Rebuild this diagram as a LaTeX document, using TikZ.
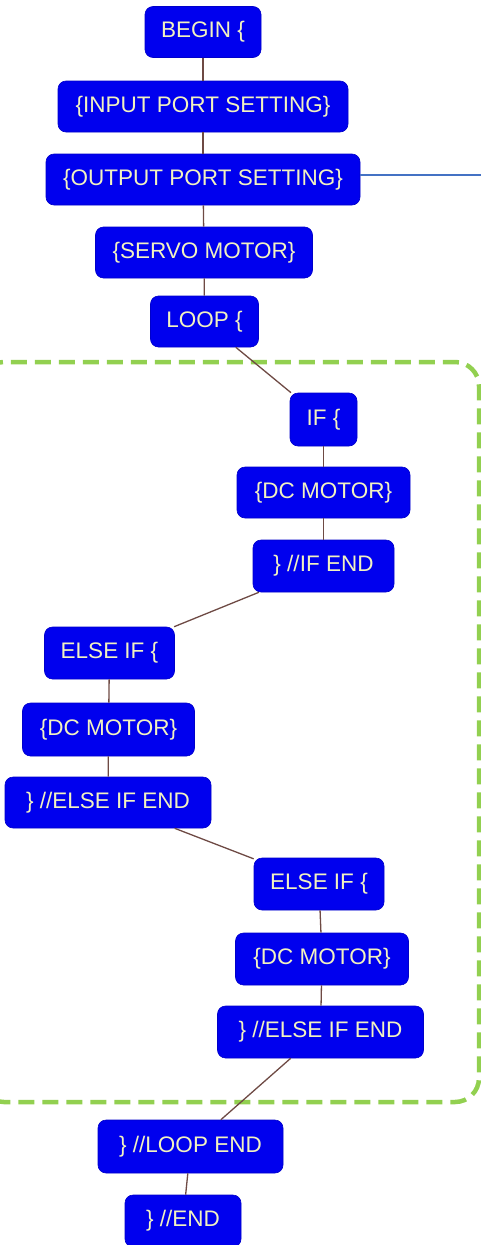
\documentclass[tikz,border=0pt]{standalone}
\usepackage{fontspec}
\setmainfont{Liberation Sans}
\definecolor{boxblue}{HTML}{0000EE}
\definecolor{boxtext}{HTML}{F2F2C0}
\definecolor{linkbrown}{HTML}{6E4A44}
\definecolor{loopgreen}{HTML}{92D050}
\definecolor{noteblue}{HTML}{4472C4}
\begin{document}
\begin{tikzpicture}[x=1pt,y=-1pt,
  blk/.style={draw=boxblue!85!black, line width=0.6pt, fill=boxblue, text=boxtext,
    rounded corners=8pt, inner sep=0pt, font=\fontsize{22.5}{26}\selectfont,
    minimum height=51pt},
  link/.style={draw=linkbrown, line width=1.3pt},
  loopframe/.style={draw=loopgreen, line width=4.5pt, dash pattern=on 16pt off 8pt,
    rounded corners=24pt}
]
\useasboundingbox (0,0) rectangle (481,1245);

% dashed frame around the loop body
\draw[loopframe] (-20,362) rectangle (479,1102);

% program blocks
\node[blk, minimum width=116pt] (begin) at (203,32) {BEGIN \{};
\node[blk, minimum width=290pt] (inport) at (203,106.5) {\{INPUT PORT SETTING\}};
\node[blk, minimum width=314pt] (outport) at (203,179.5) {\{OUTPUT PORT SETTING\}};
\node[blk, minimum width=217pt] (servo) at (204,252.5) {\{SERVO MOTOR\}};
\node[blk, minimum width=108pt] (loop) at (204.5,321.5) {LOOP \{};
\node[blk, minimum width=67pt, minimum height=53pt] (if) at (323.5,419.5) {IF \{};
\node[blk, minimum width=173pt] (dcone) at (323.5,492.5) {\{DC MOTOR\}};
\node[blk, minimum width=141pt, minimum height=52pt] (ifend) at (323.5,566) {\} //IF END};
\node[blk, minimum width=130pt, minimum height=52pt] (elifone) at (109.5,653) {ELSE IF \{};
\node[blk, minimum width=172pt, minimum height=53pt] (dctwo) at (108.5,729.5) {\{DC MOTOR\}};
\node[blk, minimum width=206pt] (elifendone) at (108,802.5) {\} //ELSE IF END};
\node[blk, minimum width=130pt, minimum height=52pt] (eliftwo) at (319,884) {ELSE IF \{};
\node[blk, minimum width=173pt, minimum height=52pt] (dcthree) at (322,959) {\{DC MOTOR\}};
\node[blk, minimum width=206pt, minimum height=52pt] (elifendtwo) at (320.5,1032) {\} //ELSE IF END};
\node[blk, minimum width=185pt, minimum height=53pt] (loopend) at (190.5,1146.5) {\} //LOOP END};
\node[blk, minimum width=116pt, minimum height=52pt] (progend) at (183,1221) {\} //END};

% flow links
\draw[link] (begin) -- (inport);
\draw[link] (inport) -- (outport);
\draw[link] (outport) -- (servo);
\draw[link] (servo) -- (loop);
\draw[link] (loop) -- (if);
\draw[link] (if) -- (dcone);
\draw[link] (dcone) -- (ifend);
\draw[link] (ifend) -- (elifone);
\draw[link] (elifone) -- (dctwo);
\draw[link] (dctwo) -- (elifendone);
\draw[link] (elifendone) -- (eliftwo);
\draw[link] (eliftwo) -- (dcthree);
\draw[link] (dcthree) -- (elifendtwo);
\draw[link] (elifendtwo) -- (loopend);
\draw[link] (loopend) -- (progend);

% callout line leaving the output-port block
\coordinate (calloutend) at (482,175);
\draw[noteblue, line width=1.5pt] (outport.east |- calloutend) -- (calloutend);
\end{tikzpicture}
\end{document}
